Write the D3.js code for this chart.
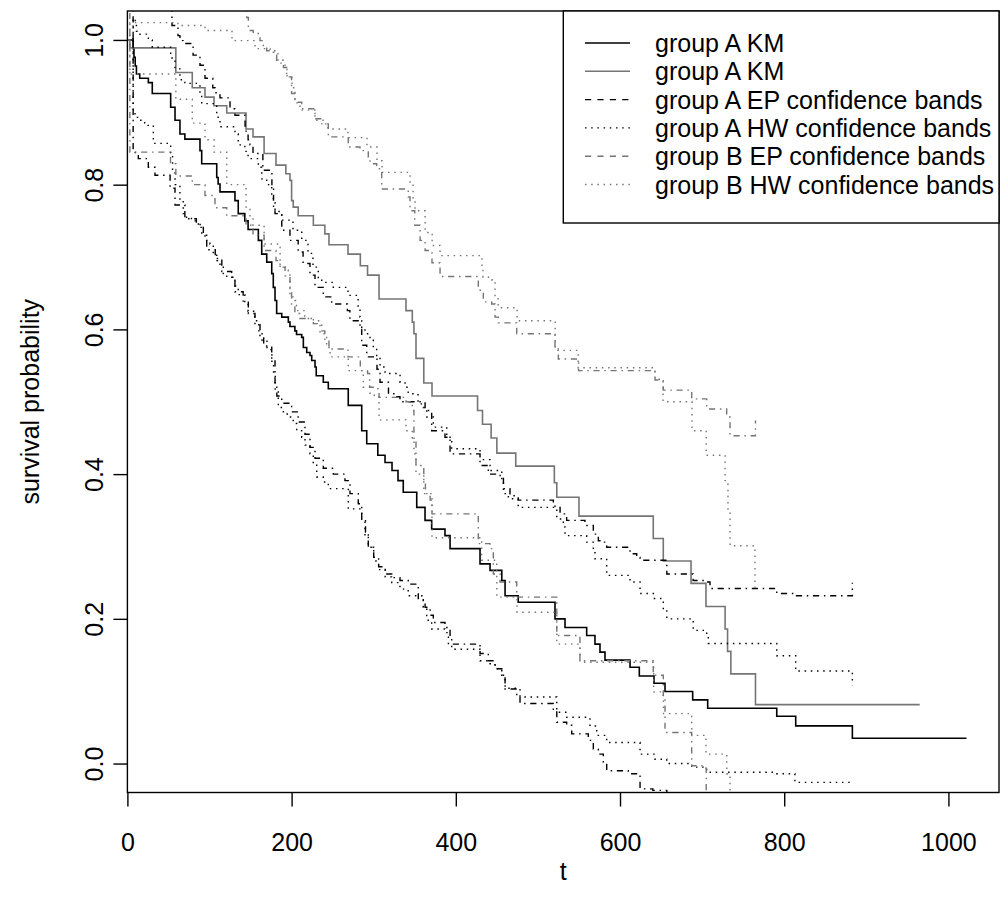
<!DOCTYPE html>
<html>
<head>
<meta charset="utf-8">
<script src="https://cdn.jsdelivr.net/npm/d3@7"></script>
<style>
  body { margin: 0; background: #fff; }
  svg { display: block; }
  text { font-family: "Liberation Sans", Arial, Helvetica, sans-serif; }
</style>
</head>
<body>
<svg id="chart" width="1000" height="909"></svg>
<script>
// ---- data (time, survival) ----
const aKmTime = [0, 7, 8, 9.5, 11, 15, 25.5, 30.3, 52.7, 58, 64, 70, 88.4, 90.5, 108.8, 110.5, 112.8, 131, 135, 143, 147, 159.5, 163.6, 169.7, 175.8, 177.7, 179.8, 181.8, 188, 196, 198, 204, 206, 212.3, 214.3, 218.4, 222.4, 224.5, 228.5, 230, 238.6, 244.7, 269, 285.4, 291.5, 305, 313.8, 322.3, 329.6, 336, 352.4, 362.5, 370.6, 386.8, 393, 429.5, 441.7, 456, 460, 476, 520.8, 533, 559.4, 569.5, 575.6, 581.7, 612.2, 623.5, 641.4, 654.8, 688.5, 706.8, 790.9, 814, 883, 1022];
const aKmSurv = [1, 0.988, 0.976, 0.964, 0.953, 0.947, 0.941, 0.926, 0.907, 0.889, 0.87, 0.863, 0.847, 0.829, 0.81, 0.801, 0.79, 0.778, 0.76, 0.75, 0.738, 0.723, 0.704, 0.693, 0.677, 0.658, 0.64, 0.622, 0.617, 0.61, 0.604, 0.598, 0.593, 0.589, 0.575, 0.568, 0.564, 0.557, 0.548, 0.536, 0.527, 0.518, 0.495, 0.46, 0.442, 0.426, 0.416, 0.405, 0.391, 0.375, 0.354, 0.336, 0.324, 0.315, 0.297, 0.276, 0.267, 0.253, 0.232, 0.223, 0.2, 0.188, 0.177, 0.165, 0.154, 0.143, 0.133, 0.121, 0.111, 0.0995, 0.088, 0.0764, 0.0654, 0.0521, 0.035, 0.035];

const bKmTime = [0, 3, 59, 79, 94.5, 105.5, 121, 144.5, 153, 166.5, 181, 193, 198, 200, 202, 208, 226.5, 240.5, 245.5, 268.7, 283.7, 292.5, 306.5, 339.3, 347, 349, 351.5, 361, 371, 426.5, 432.5, 443, 450, 473, 520, 523, 550, 640.5, 652.7, 686.5, 704.7, 728, 731, 735, 765, 965];
const bKmSurv = [1, 0.989, 0.955, 0.934, 0.921, 0.909, 0.899, 0.877, 0.866, 0.843, 0.827, 0.815, 0.806, 0.778, 0.769, 0.757, 0.744, 0.732, 0.717, 0.704, 0.688, 0.675, 0.642, 0.626, 0.61, 0.594, 0.56, 0.526, 0.508, 0.488, 0.469, 0.45, 0.429, 0.411, 0.388, 0.368, 0.342, 0.311, 0.28, 0.249, 0.217, 0.186, 0.155, 0.124, 0.0815, 0.0815];

// group A equal precision band
const aEpUpTime = [0, 7, 54.3, 61.6, 64, 67.7, 80, 88.4, 94.5, 104, 106.7, 112.8, 125, 131, 143.3, 147, 149.3, 153, 165, 176, 178, 179.8, 188, 198, 208, 214, 222.4, 228.5, 238.6, 248.8, 268, 271, 283.3, 285.4, 291.5, 304, 307.7, 318, 328, 332, 362.6, 370.6, 386.8, 393, 429.5, 439.6, 454, 458, 466, 476, 518.8, 520.8, 527, 535, 557.3, 567.5, 573.6, 579.7, 583.8, 612.2, 620.3, 624.4, 657, 689, 705.6, 709.6, 790.9, 815, 883];
const aEpUpVal = [1, 1.08, 1.02, 1.006, 0.999, 0.995, 0.979, 0.965, 0.947, 0.934, 0.927, 0.92, 0.905, 0.896, 0.874, 0.862, 0.855, 0.843, 0.82, 0.795, 0.77, 0.76, 0.737, 0.723, 0.707, 0.691, 0.675, 0.658, 0.645, 0.635, 0.626, 0.612, 0.6, 0.578, 0.562, 0.545, 0.527, 0.511, 0.507, 0.5, 0.488, 0.46, 0.451, 0.428, 0.412, 0.4, 0.396, 0.38, 0.37, 0.364, 0.359, 0.354, 0.345, 0.336, 0.329, 0.317, 0.308, 0.306, 0.299, 0.29, 0.285, 0.281, 0.262, 0.253, 0.251, 0.242, 0.235, 0.232, 0.25];
const aEpLoTime = [0, 7, 9.5, 13.3, 25.5, 33.6, 52, 58, 70, 84, 92.5, 96.6, 107, 115, 127, 131, 141, 147.3, 155.4, 161.5, 166, 175.8, 179.8, 182, 188, 200, 208, 216.3, 222.4, 228.5, 238.6, 250.8, 265, 271.1, 281.2, 285.4, 290, 293.4, 300, 306, 314, 322, 332, 342, 354.3, 360.4, 362.6, 368.7, 372.6, 386.8, 393, 395, 429.5, 439.6, 447.8, 456, 460, 474.2, 478.2, 518.8, 523, 535, 541.2, 561.4, 567.5, 573.6, 579.7, 583.8, 610.1, 624.4, 640, 657, 690, 707, 883];
const aEpLoVal = [1, 0.85, 0.843, 0.836, 0.824, 0.813, 0.795, 0.772, 0.753, 0.745, 0.73, 0.71, 0.698, 0.68, 0.672, 0.652, 0.639, 0.622, 0.608, 0.59, 0.577, 0.558, 0.525, 0.508, 0.498, 0.486, 0.472, 0.455, 0.437, 0.422, 0.408, 0.4, 0.391, 0.373, 0.359, 0.338, 0.32, 0.299, 0.285, 0.272, 0.262, 0.257, 0.253, 0.248, 0.228, 0.225, 0.216, 0.205, 0.195, 0.188, 0.175, 0.165, 0.152, 0.142, 0.131, 0.122, 0.103, 0.094, 0.083, 0.073, 0.057, 0.053, 0.041, 0.032, 0.02, 0.013, 0.002, -0.01, -0.014, -0.035, -0.037, -0.06, -0.07, -0.08, -0.09];

// group A Hall-Wellner band
const aHwUpTime = [0, 7, 9.5, 11, 15, 25.5, 30.3, 52.7, 58, 64, 70, 88.4, 90.5, 108.8, 110.5, 112.8, 131, 135, 143, 147, 159.5, 163.6, 169.7, 175.8, 177.7, 179.8, 188, 201.7, 212.3, 220, 226, 232.5, 236.7, 250.8, 268.7, 281, 283.3, 285.4, 289.4, 295.5, 299.5, 303.6, 307.7, 313.8, 332.1, 338.2, 342, 354, 360.4, 364.6, 372.6, 389, 395, 429.5, 441.7, 456, 458, 464, 476, 523, 531, 533, 559.4, 567.5, 569.5, 583.8, 612.2, 624.4, 640.6, 652.7, 657, 689.2, 705.6, 707.5, 790.9, 814, 883];
const aHwUpVal = [1, 1.03, 1.02, 1.012, 1.008, 1.0, 0.99, 0.975, 0.96, 0.945, 0.94, 0.925, 0.912, 0.898, 0.89, 0.88, 0.87, 0.855, 0.846, 0.836, 0.824, 0.808, 0.8, 0.787, 0.775, 0.763, 0.751, 0.737, 0.723, 0.705, 0.686, 0.67, 0.665, 0.658, 0.647, 0.631, 0.617, 0.603, 0.594, 0.585, 0.575, 0.562, 0.548, 0.539, 0.527, 0.52, 0.511, 0.497, 0.492, 0.479, 0.465, 0.451, 0.435, 0.42, 0.405, 0.39, 0.373, 0.366, 0.354, 0.338, 0.327, 0.315, 0.306, 0.294, 0.283, 0.26, 0.251, 0.235, 0.228, 0.211, 0.2, 0.184, 0.179, 0.166, 0.149, 0.128, 0.108];
const aHwLoTime = [0, 7, 9.3, 15, 21, 31.6, 52.7, 55, 58, 64, 68, 72, 78, 86.4, 90.5, 94.5, 100.6, 104.6, 108.8, 112.8, 116.8, 121, 131, 135, 143, 147, 155, 160, 164, 170, 176, 178, 180, 183.8, 190, 196, 202, 206.2, 212.3, 216.3, 222.4, 226.4, 230.6, 238.6, 244.7, 269, 285.4, 289.4, 293.4, 300, 306, 314, 322, 332, 342, 360.4, 364.6, 370.6, 386.8, 391, 395, 429.5, 441.7, 447.8, 456, 460, 478.2, 523, 535, 563.4, 571.6, 583.8, 624.4, 642.6, 656.9, 687.3, 705.6, 790.9, 813, 883];
const aHwLoVal = [1, 0.9, 0.893, 0.889, 0.882, 0.857, 0.84, 0.82, 0.8, 0.778, 0.76, 0.755, 0.75, 0.741, 0.732, 0.723, 0.718, 0.704, 0.695, 0.686, 0.677, 0.672, 0.66, 0.648, 0.636, 0.625, 0.612, 0.598, 0.585, 0.572, 0.555, 0.535, 0.515, 0.492, 0.483, 0.479, 0.47, 0.46, 0.451, 0.44, 0.428, 0.414, 0.396, 0.389, 0.38, 0.352, 0.334, 0.315, 0.299, 0.28, 0.268, 0.258, 0.25, 0.241, 0.232, 0.216, 0.198, 0.186, 0.181, 0.163, 0.158, 0.142, 0.138, 0.131, 0.122, 0.104, 0.092, 0.071, 0.064, 0.052, 0.039, 0.029, 0.013, 0.006, 0.0, -0.005, -0.012, -0.014, -0.026, -0.027];

// group B equal precision band
const bEpUpTime = [0, 3, 145.3, 147.3, 153.3, 161.5, 165.5, 169.7, 177.7, 181.8, 190, 194, 200, 204, 212.3, 228.5, 236.7, 244.7, 269, 283.3, 293.4, 295.5, 303.6, 309.7, 342.1, 344.2, 350, 356.5, 362.6, 371, 380.8, 427.4, 433.5, 443.7, 447.8, 451.8, 474.2, 520.8, 524.9, 549.5, 642.6, 652.7, 687.3, 705.6, 729.9, 734, 765];
const bEpUpVal = [1, 1.08, 1.031, 1.013, 1.009, 0.999, 0.99, 0.985, 0.983, 0.972, 0.962, 0.949, 0.926, 0.914, 0.905, 0.891, 0.884, 0.866, 0.852, 0.847, 0.838, 0.829, 0.822, 0.794, 0.783, 0.764, 0.744, 0.723, 0.709, 0.692, 0.673, 0.654, 0.638, 0.635, 0.617, 0.609, 0.594, 0.575, 0.559, 0.543, 0.53, 0.516, 0.504, 0.49, 0.479, 0.453, 0.474];
const bEpLoTime = [0, 3, 52.5, 59, 79, 94.5, 106.7, 121, 144.5, 153, 166.5, 181, 186, 192, 198, 200, 204, 210, 226.5, 236.7, 240.5, 245.5, 268.7, 283.7, 292.5, 295, 303, 306.5, 339.3, 347, 349, 351.5, 361, 363, 368.7, 371, 427.4, 441.7, 445.7, 453.9, 474.2, 523, 551.2, 640.5, 652.7, 654.8, 687.3, 704.7, 705, 765];
const bEpLoVal = [1, 0.845, 0.829, 0.812, 0.8, 0.785, 0.768, 0.757, 0.744, 0.73, 0.709, 0.695, 0.686, 0.674, 0.654, 0.635, 0.622, 0.615, 0.608, 0.598, 0.585, 0.573, 0.562, 0.543, 0.539, 0.52, 0.518, 0.506, 0.5, 0.488, 0.446, 0.412, 0.389, 0.373, 0.364, 0.345, 0.304, 0.297, 0.262, 0.251, 0.23, 0.177, 0.142, 0.122, 0.092, 0.043, -0.003, -0.007, -0.06, -0.06];

// group B Hall-Wellner band
const bHwUpTime = [0, 3, 61.6, 94.5, 127.4, 155.4, 173.7, 183.4, 192, 194.4, 200.5, 204.1, 210.2, 228.5, 238.3, 244.3, 268.7, 291.8, 304, 310.1, 344.3, 348, 350.4, 362.6, 371.2, 380.8, 431.9, 433.1, 444.2, 447.8, 451.5, 474.7, 521, 549, 642.6, 652.4, 687.7, 705, 728, 731.5, 734, 764.4];
const bHwUpVal = [1, 1.024, 1.02, 1.013, 0.999, 0.988, 0.985, 0.968, 0.962, 0.948, 0.934, 0.913, 0.903, 0.889, 0.884, 0.877, 0.865, 0.852, 0.833, 0.817, 0.801, 0.778, 0.764, 0.734, 0.716, 0.702, 0.686, 0.672, 0.668, 0.644, 0.63, 0.612, 0.571, 0.547, 0.531, 0.5, 0.46, 0.426, 0.391, 0.35, 0.301, 0.243];
const bHwLoTime = [0, 3, 59, 79, 94.5, 105.5, 121, 144.5, 149.3, 153, 166.5, 186, 196, 198, 204, 206, 216, 226.5, 234.6, 242.7, 246.8, 269, 287.3, 295.5, 306.5, 339.3, 347, 349, 351.5, 361, 371, 431.5, 449.8, 450, 474.5, 523, 551.2, 640.5, 641, 652.7, 653, 687.3, 704.7, 730, 734, 765];
const bHwLoVal = [1, 0.953, 0.918, 0.885, 0.862, 0.845, 0.8, 0.769, 0.755, 0.744, 0.718, 0.686, 0.681, 0.645, 0.64, 0.626, 0.615, 0.612, 0.594, 0.575, 0.562, 0.543, 0.52, 0.509, 0.475, 0.46, 0.45, 0.428, 0.4, 0.373, 0.312, 0.281, 0.253, 0.23, 0.209, 0.165, 0.14, 0.138, 0.099, 0.092, 0.069, 0.039, 0.013, -0.014, -0.06, -0.06];

const xTicks = [0, 200, 400, 600, 800, 1000];
const yTicks = [0, 0.2, 0.4, 0.6, 0.8, 1.0];
const legendLabels = ['group A KM', 'group A KM', 'group A EP confidence bands',
  'group A HW confidence bands', 'group B EP confidence bands', 'group B HW confidence bands'];

// ---- layout ----
const GRAY = '#757575';
const DOT = '1.5,4.7', DOTDASH = '1.5,4.7,6.2,4.7', DASH = '6.2,6.2';
const fontSize = 25;
const plotL = 127.4, plotR = 999, plotT = 11, plotB = 792.5;

const svg = d3.select('#chart');
const x = d3.scaleLinear().domain([0, 1061.6]).range([plotL, plotR]);
const y = d3.scaleLinear().domain([-0.04, 1.04]).range([plotB, plotT]);

svg.append('defs').append('clipPath').attr('id', 'plotclip')
  .append('rect').attr('x', plotL).attr('y', plotT)
  .attr('width', plotR - plotL).attr('height', plotB - plotT);

const line = d3.line()
  .x(d => x(d[0]))
  .y(d => y(d[1]))
  .curve(d3.curveStepAfter);

// KM curves first, then the bands
const series = [
  { t: aKmTime, v: aKmSurv, color: '#000', dash: null, w: 1.6 },
  { t: bKmTime, v: bKmSurv, color: GRAY, dash: null, w: 1.6 },
  { t: aEpUpTime, v: aEpUpVal, color: '#000', dash: DOTDASH, w: 1.4 },
  { t: aEpLoTime, v: aEpLoVal, color: '#000', dash: DOTDASH, w: 1.4 },
  { t: aHwUpTime, v: aHwUpVal, color: '#000', dash: DOT, w: 1.4 },
  { t: aHwLoTime, v: aHwLoVal, color: '#000', dash: DOT, w: 1.4 },
  { t: bEpUpTime, v: bEpUpVal, color: GRAY, dash: DOTDASH, w: 1.4 },
  { t: bEpLoTime, v: bEpLoVal, color: GRAY, dash: DOTDASH, w: 1.4 },
  { t: bHwUpTime, v: bHwUpVal, color: GRAY, dash: DOT, w: 1.4 },
  { t: bHwLoTime, v: bHwLoVal, color: GRAY, dash: DOT, w: 1.4 },
];

const plotG = svg.append('g').attr('clip-path', 'url(#plotclip)');
series.forEach(s => {
  plotG.append('path')
    .datum(d3.zip(s.t, s.v))
    .attr('d', line)
    .attr('fill', 'none')
    .attr('stroke', s.color)
    .attr('stroke-width', s.w)
    .attr('stroke-dasharray', s.dash);
});

// ---- axes ----
const xAxis = d3.axisBottom(x).tickValues(xTicks).tickSize(14).tickSizeOuter(0).tickFormat(d3.format('d'));
svg.append('g')
  .attr('transform', `translate(0,${plotB})`)
  .call(xAxis)
  .call(g => g.select('.domain').remove())
  .call(g => g.selectAll('line').attr('stroke', '#000').attr('stroke-width', 1.4))
  .call(g => g.selectAll('text')
    .attr('y', 58).attr('dy', 0)
    .attr('font-size', fontSize).attr('fill', '#000'));

const yAxis = d3.axisLeft(y).tickValues(yTicks).tickSize(14).tickSizeOuter(0).tickFormat(d3.format('.1f'));
svg.append('g')
  .attr('transform', `translate(${plotL},0)`)
  .call(yAxis)
  .call(g => g.select('.domain').remove())
  .call(g => g.selectAll('line').attr('stroke', '#000').attr('stroke-width', 1.4))
  .call(g => g.selectAll('text')
    .attr('transform', 'rotate(-90)')
    .attr('x', 0).attr('y', -24).attr('dy', 0)
    .attr('text-anchor', 'middle')
    .attr('font-size', fontSize).attr('fill', '#000'));

// box
svg.append('rect')
  .attr('x', plotL).attr('y', plotT)
  .attr('width', plotR - plotL).attr('height', plotB - plotT)
  .attr('fill', 'none').attr('stroke', '#000').attr('stroke-width', 1.4);

// axis titles
svg.append('text')
  .attr('x', (plotL + plotR) / 2).attr('y', 880)
  .attr('text-anchor', 'middle').attr('font-size', fontSize)
  .text('t');
svg.append('text')
  .attr('transform', `translate(38.5,${(plotT + plotB) / 2}) rotate(-90)`)
  .attr('text-anchor', 'middle').attr('font-size', fontSize)
  .text('survival probability');

// ---- legend ----
const legColors = ['#000', GRAY, '#000', '#000', GRAY, GRAY];
const legDash = [null, null, DASH, DOT, DASH, DOT];
const leg = svg.append('g');
leg.append('rect')
  .attr('x', 563.3).attr('y', plotT)
  .attr('width', plotR - 563.3).attr('height', 223 - plotT)
  .attr('fill', '#fff').attr('stroke', '#000').attr('stroke-width', 1.4);

legendLabels.forEach((lab, i) => {
  const yy = 43 + i * 28.3;
  leg.append('line')
    .attr('x1', 585).attr('x2', 630).attr('y1', yy).attr('y2', yy)
    .attr('stroke', legColors[i]).attr('stroke-width', 1.4)
    .attr('stroke-dasharray', legDash[i]);
  leg.append('text')
    .attr('x', 655).attr('y', yy + 9)
    .attr('font-size', fontSize)
    .text(lab);
});
</script>
</body>
</html>
